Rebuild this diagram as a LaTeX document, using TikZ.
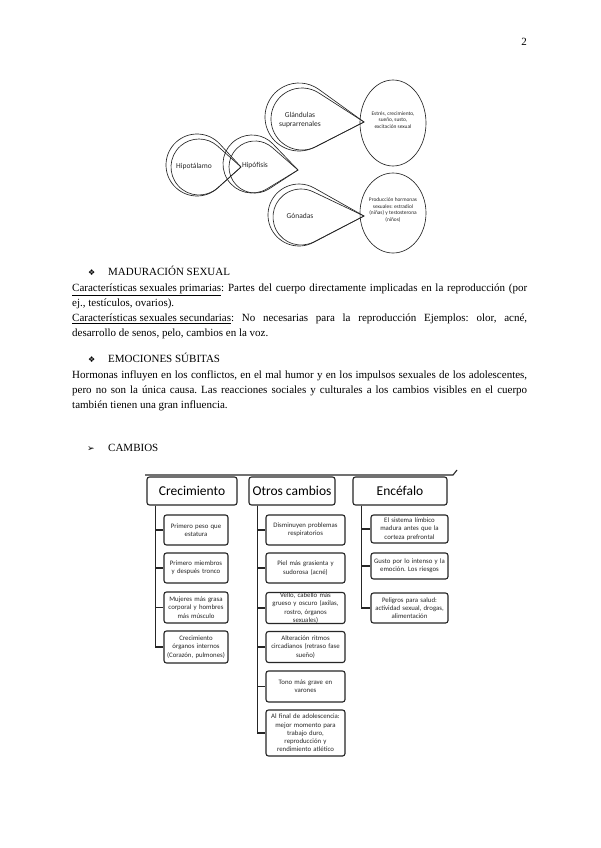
\documentclass[tikz,border=0pt]{standalone}
\usepackage{fontspec}
\setmainfont{Liberation Serif}
\newfontfamily\calibri{Carlito}
\newfontfamily\dingbat{DejaVu Sans}
\usepackage{tikz}
\usetikzlibrary{calc}
\frenchspacing

\tikzset{
  drop/.style={draw=black!85, line width=0.65pt},
  bubble/.style={inner sep=0pt, align=center, text=black!85, font=\calibri\fontsize{7.5}{8.5}\selectfont},
  small/.style={inner sep=0pt, align=center, text=black!85, font=\calibri\fontsize{5.4}{6.4}\selectfont},
  head/.style={draw=black!85, line width=1.1pt, rounded corners=2.5pt, minimum height=28pt, inner sep=0pt,
    font=\calibri\fontsize{13.5}{16}\selectfont},
  leaf/.style={draw=black!85, line width=1.1pt, rounded corners=2.5pt, inner sep=0pt, align=center,
    text width=#1, minimum width=#1, text=black!85, font=\calibri\fontsize{6.8}{8.3}\selectfont},
  branch/.style={draw=black!85, line width=1.1pt},
  body/.style={anchor=base west, inner sep=0pt, font=\fontsize{11}{15.2}\selectfont}
}

\newcommand{\teardrop}[5]{%
  \pgfmathsetmacro\tdang{atan2(#5-#2,#4-#1)}%
  \pgfmathsetmacro\tdopen{acos(#3/veclen(#4-#1,#5-#2))}%
  \draw[drop] (#4,#5) -- ($(#1,#2)+(\tdang+\tdopen:#3)$)
    arc[start angle=\tdang+\tdopen, end angle=\tdang-\tdopen+360, radius=#3] -- cycle;}

\begin{document}
\begin{tikzpicture}[x=1pt,y=-1pt]
\fill[white] (0,0) rectangle (600,848);
\useasboundingbox (0,0) rectangle (600,848);

\node[body, anchor=base east] (pnum) at (527,46) {2};

% glandulas
\teardrop{199}{167}{28}{241}{167}
\teardrop{197}{165}{31}{241}{167}
\teardrop{255}{167}{26}{298}{170}
\teardrop{252}{164}{29}{298}{170}
\teardrop{302}{119}{31}{364}{122}
\teardrop{299}{117}{34}{364}{122}
\teardrop{301}{217}{28}{364}{216}
\teardrop{299}{215}{31}{364}{216}
\draw[drop] (393,123) ellipse[x radius=33, y radius=43];
\draw[drop] (393,213) ellipse[x radius=33, y radius=40];
\node[bubble] (hipot) at (194,166) {Hipotálamo};
\node[bubble] (hipof) at (255,166) {Hipófisis};
\node[bubble] (supra) at (300,120) {Glándulas\\suprarrenales};
\node[bubble] (gonad) at (300,216) {Gónadas};
\node[small] (estres) at (393,120) {Estrés, crecimiento,\\sueño, susto,\\excitación sexual};
\node[small] (prod) at (393,210) {Producción hormonas\\sexuales: estradiol\\(niñas) y testosterona\\(niños)};

% texto
\node[body, font=\dingbat\fontsize{8}{10}\selectfont] (bul1) at (88,275) {❖};
\node[body] (madur) at (108,275) {MADURACIÓN SEXUAL};
\node[body, text width=455pt, align=justify] (caract) at (72,291)
  {\underline{Características sexuales primarias}: Partes del cuerpo directamente implicadas en la reproducción (por\linebreak
   ej., testículos, ovarios).\\
   \underline{Características sexuales secundarias}: No necesarias para la reproducción Ejemplos: olor, acné,\linebreak
   desarrollo de senos, pelo, cambios en la voz.};
\node[body, font=\dingbat\fontsize{8}{10}\selectfont] (bul2) at (88,362) {❖};
\node[body] (emoc) at (108,362) {EMOCIONES SÚBITAS};
\node[body, text width=455pt, align=justify] (hormo) at (72,378)
  {Hormonas influyen en los conflictos, en el mal humor y en los impulsos sexuales de los adolescentes,\linebreak
   pero no son la única causa. Las reacciones sociales y culturales a los cambios visibles en el cuerpo\linebreak
   también tienen una gran influencia.};
\node[body, font=\dingbat\fontsize{9}{10}\selectfont] (bul3) at (87,451) {➢};
\node[body] (cambios) at (108,451) {CAMBIOS};

% cambios
\coordinate (barL) at (145,475);
\coordinate (barR) at (453,475);
\coordinate (barT) at (457,470);
\draw[branch] (barL) -- (barR) -- (barT);
\node[head, minimum width=90pt] (crec) at (192,491) {Crecimiento};
\node[head, minimum width=86pt] (otros) at (292,491) {Otros cambios};
\node[head, minimum width=94pt] (ence) at (400,491) {Encéfalo};

\node[leaf=64pt, minimum height=30pt] (c1) at (196,530) {Primero peso que\\estatura};
\node[leaf=64pt, minimum height=30pt] (c2) at (196,568) {Primero miembros\\y después tronco};
\node[leaf=64pt, minimum height=31pt] (c3) at (196,607.5) {Mujeres más grasa\\corporal y hombres\\más músculo};
\node[leaf=64pt, minimum height=32pt] (c4) at (196,647) {Crecimiento\\órganos internos\\(Corazón, pulmones)};

\node[leaf=79pt, minimum height=30pt] (o1) at (305.5,530) {Disminuyen problemas\\respiratorios};
\node[leaf=79pt, minimum height=30pt] (o2) at (305.5,568) {Piel más grasienta y\\sudorosa (acné)};
\node[leaf=79pt, minimum height=31pt] (o3) at (305.5,608) {Vello, cabello más\\grueso y oscuro (axilas,\\rostro, órganos\\sexuales)};
\node[leaf=79pt, minimum height=31pt] (o4) at (305.5,647) {Alteración ritmos\\circadianos (retraso fase\\sueño)};
\node[leaf=79pt, minimum height=31pt] (o5) at (305.5,686.5) {Tono más grave en\\varones};
\node[leaf=79pt, minimum height=46pt] (o6) at (305.5,733) {Al final de adolescencia:\\mejor momento para\\trabajo duro,\\reproducción y\\rendimiento atlético};

\node[leaf=77pt, minimum height=28pt] (e1) at (409.5,529) {El sistema límbico\\madura antes que la\\corteza prefrontal};
\node[leaf=77pt, minimum height=26pt] (e2) at (409.5,566) {Gusto por lo intenso y la\\emoción. Los riesgos};
\node[leaf=77pt, minimum height=30pt] (e3) at (409.5,608) {Peligros para salud:\\actividad sexual, drogas,\\alimentación};

\foreach \c in {c1,c2,c3,c4}
  \draw[branch] ([xshift=9pt]crec.south west) |- (\c.west);
\foreach \c in {o1,o2,o3,o4,o5,o6}
  \draw[branch] ([xshift=9pt]otros.south west) |- (\c.west);
\foreach \c in {e1,e2,e3}
  \draw[branch] ([xshift=9pt]ence.south west) |- (\c.west);
\end{tikzpicture}
\end{document}
